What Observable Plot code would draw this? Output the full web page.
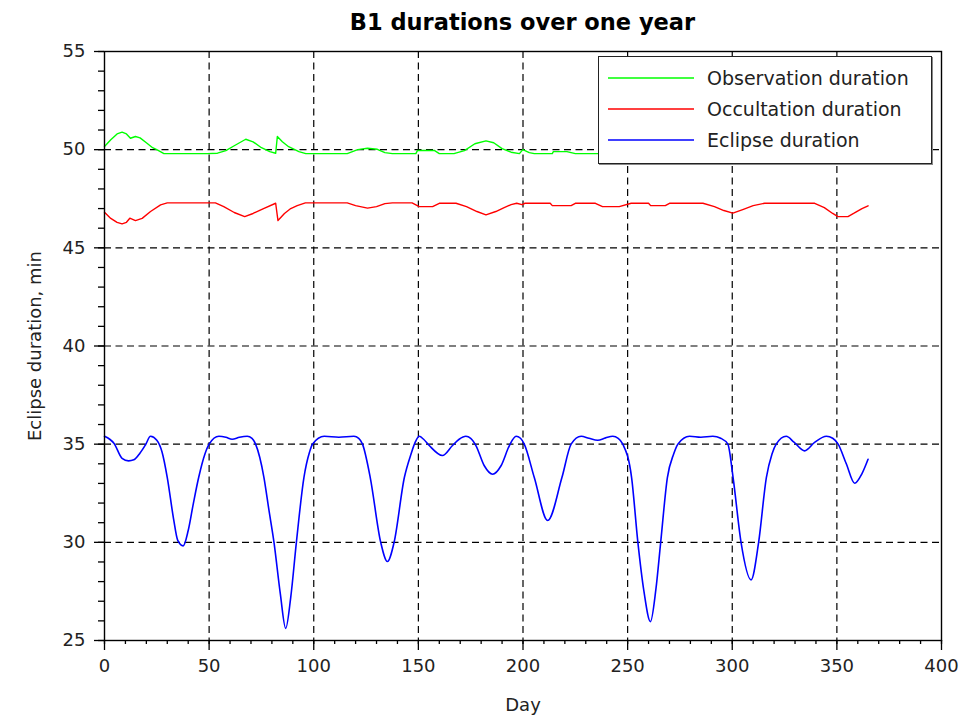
<!DOCTYPE html>
<html>
<head>
<meta charset="utf-8">
<script src="https://cdn.jsdelivr.net/npm/d3@7"></script>
<script src="https://cdn.jsdelivr.net/npm/@observablehq/plot@0.6"></script>
<style>
  body { margin: 0; background: #fff; }
  #wrap { position: relative; width: 975px; height: 715px; font-family: "DejaVu Sans", sans-serif; }
  #title { margin-left: 104px; width: 837px; height: 36px; padding-top: 0; box-sizing: border-box;
           text-align: center; font: bold 22.5px "DejaVu Sans", sans-serif; color: #000; line-height: 44px; }
  #legend { position: absolute; left: 598px; top: 56px; width: 332px; height: 106px;
            background: #fff; border: 1.5px solid #222; box-shadow: 1px 1px 0 #888; }
  #legend .row { position: absolute; left: 0; height: 24px; display: flex; align-items: center; }
  #legend svg { margin-left: 9px; }
  #legend span { margin-left: 13px; font-size: 19px; color: #222; white-space: nowrap; }
</style>
</head>
<body>
<div id="wrap">
  <div id="title">B1 durations over one year</div>
  <div id="chart"></div>
  <div id="legend"></div>
</div>
<script>
// Observation duration (min) by day; the rest of the year sits under the legend box
const obsDay = [0, 3, 6, 8.4, 10.5, 12.4, 14.8, 17, 20, 23, 25.2, 28.4, 49, 54, 58, 62, 67.5, 71, 75, 79, 81.8,
  82.6, 85, 88, 92.9, 96.2, 116, 121, 125.7, 130.4, 134, 137.6, 148.8, 149.6, 157.6, 160, 167, 172, 177, 182.3,
  186, 190, 194.3, 198.3, 199.9, 203, 205.4, 214, 214.5, 221, 225, 236];
const obsMin = [50.16, 50.5, 50.8, 50.89, 50.8, 50.58, 50.67, 50.6, 50.35, 50.1, 49.99, 49.8, 49.8, 49.82, 49.95,
  50.2, 50.53, 50.4, 50.1, 49.9, 49.82, 50.67, 50.4, 50.15, 49.9, 49.8, 49.8, 50.0, 50.07, 50.02, 49.85, 49.8,
  49.8, 49.96, 49.96, 49.8, 49.8, 49.95, 50.3, 50.45, 50.35, 50.05, 49.87, 49.8, 50.0, 49.85, 49.8, 49.8, 49.9,
  49.9, 49.8, 49.8];

// Occultation duration (min) by day
const occDay = [0, 3, 6, 8.4, 10.5, 12.1, 14.8, 18, 22, 26.8, 30, 53, 57, 62, 67, 71, 76, 81.8, 82.9, 86, 89,
  92.1, 96, 116, 120, 125.7, 130, 134, 137.6, 147, 150.4, 156.8, 160, 168, 173, 178, 182.3, 187, 191, 194.3, 197,
  199.5, 201, 213, 214, 223, 225, 234.6, 238, 246, 251.7, 260, 261, 268, 270, 286, 291.5, 296, 300.3, 305, 310,
  315.5, 339.4, 344, 348, 350.5, 355.3, 358, 362, 364.9];
const occMin = [46.81, 46.5, 46.3, 46.22, 46.3, 46.51, 46.39, 46.5, 46.85, 47.19, 47.29, 47.29, 47.1, 46.8, 46.59,
  46.75, 47.0, 47.27, 46.39, 46.75, 47.0, 47.15, 47.29, 47.29, 47.15, 47.02, 47.1, 47.25, 47.29, 47.29, 47.1, 47.1,
  47.27, 47.27, 47.1, 46.85, 46.68, 46.85, 47.05, 47.2, 47.27, 47.2, 47.27, 47.27, 47.15, 47.15, 47.27, 47.27,
  47.1, 47.1, 47.27, 47.27, 47.15, 47.15, 47.27, 47.27, 47.1, 46.9, 46.77, 46.95, 47.15, 47.27, 47.27, 47.05,
  46.75, 46.59, 46.59, 46.75, 47.0, 47.14];

// Eclipse duration (min) by day
const eclDay = [0, 2.5, 4.5, 8.4, 11.5, 14, 17, 19.6, 22, 25, 27.5, 30, 33, 35, 37.6, 40, 42.5, 45, 48, 50, 54.7,
  58, 61, 64.5, 68.2, 70.5, 72.2, 76.2, 78.5, 81, 84, 86.6, 89, 91.7, 95.3, 98, 99.4, 105, 112, 119.2, 121.5, 123.3,
  127, 132, 135.2, 138.4, 143.3, 146.5, 148.5, 150.4, 152.5, 155.2, 161.5, 166.3, 169.5, 172.7, 175, 177.5, 181.5,
  185.5, 189.5, 193.5, 196.7, 198.8, 200.6, 205.4, 211.8, 218.6, 223, 227.8, 231.5, 235.7, 239.5, 242.9, 245.5,
  247.7, 251.9, 254.9, 257.8, 260.9, 263.5, 265.8, 269, 272, 274, 279.6, 285, 290.7, 294.5, 297.9, 300.4, 304.2,
  309, 312.6, 316.3, 319, 321, 325.8, 329.5, 334.6, 339.5, 345, 348, 350.6, 354.5, 358.5, 362, 364.9];
const eclMin = [35.4, 35.25, 35.05, 34.28, 34.15, 34.2, 34.55, 34.97, 35.4, 35.2, 34.6, 33.3, 31.2, 30.1, 29.82,
  30.6, 32.0, 33.3, 34.5, 35.0, 35.4, 35.35, 35.25, 35.35, 35.4, 35.3, 35.0, 33.3, 31.7, 30.0, 27.4, 25.62, 27.2,
  30.0, 33.3, 34.6, 35.0, 35.4, 35.35, 35.4, 35.3, 35.0, 33.3, 30.0, 29.02, 30.0, 33.3, 34.5, 35.1, 35.4, 35.25,
  34.93, 34.42, 34.93, 35.25, 35.4, 35.3, 34.93, 33.9, 33.47, 33.9, 34.93, 35.4, 35.3, 35.0, 33.3, 31.11, 33.3,
  35.0, 35.4, 35.3, 35.2, 35.32, 35.4, 35.3, 35.0, 33.3, 30.0, 27.5, 25.96, 27.6, 30.0, 33.3, 34.5, 35.0, 35.4,
  35.35, 35.4, 35.3, 35.0, 33.3, 30.0, 28.09, 30.0, 33.3, 34.5, 35.0, 35.4, 35.1, 34.66, 35.1, 35.4, 35.3, 35.0,
  34.0, 33.01, 33.5, 34.23];

// Axis ticks
const xMajor = [0, 50, 100, 150, 200, 250, 300, 350, 400];
const xMinor = d3.range(0, 401, 10);
const yMajor = [25, 30, 35, 40, 45, 50, 55];
const yMinor = d3.range(25, 56, 1);
const xGrid = [50, 100, 150, 200, 250, 300, 350];
const yGrid = [30, 35, 40, 45, 50];

const seriesNames = ["Observation duration", "Occultation duration", "Eclipse duration"];
const seriesColors = ["#00ff00", "#ff0000", "#0000ff"];

const toRows = (days, mins, name) => days.map((d, i) => ({day: d, min: mins[i], series: name}));
const observation = toRows(obsDay, obsMin, seriesNames[0]);
const occultation = toRows(occDay, occMin, seriesNames[1]);
const eclipse = toRows(eclDay, eclMin, seriesNames[2]);

const dash = {stroke: "#000", strokeOpacity: 1, strokeWidth: 1.2, strokeDasharray: "7,4.5"};

const chart = Plot.plot({
  width: 975,
  height: 679,
  marginTop: 15,
  marginBottom: 75,
  marginLeft: 104,
  marginRight: 34,
  style: {fontFamily: "DejaVu Sans, sans-serif", fontSize: "18px", color: "#000", background: "#fff", overflow: "visible"},
  x: {domain: [0, 400]},
  y: {domain: [25, 55]},
  marks: [
    Plot.gridX(xGrid, dash),
    Plot.gridY(yGrid, dash),
    Plot.line(observation, {x: "day", y: "min", stroke: seriesColors[0], strokeWidth: 1.4}),
    Plot.line(occultation, {x: "day", y: "min", stroke: seriesColors[1], strokeWidth: 1.4}),
    Plot.line(eclipse, {x: "day", y: "min", stroke: seriesColors[2], strokeWidth: 1.6, curve: "monotone-x"}),
    Plot.axisX(xMinor, {tickSize: 4, tickFormat: () => "", label: null, strokeWidth: 1.3}),
    Plot.axisX(xMajor, {tickSize: 10, tickPadding: 9, fill: "#222", strokeWidth: 1.3,
      label: "Day", labelAnchor: "center", labelArrow: "none", labelOffset: 70}),
    Plot.axisY(yMinor, {tickSize: 6, tickFormat: () => "", label: null, strokeWidth: 1.3}),
    Plot.axisY(yMajor, {tickSize: 10, tickPadding: 9, fill: "#222", strokeWidth: 1.3,
      label: "Eclipse duration, min", labelAnchor: "center", labelArrow: "none", labelOffset: 76}),
    Plot.frame({stroke: "#000", strokeWidth: 1.4})
  ]
});
document.getElementById("chart").appendChild(chart);

// Legend box in the upper right of the plot area
const legend = document.getElementById("legend");
seriesNames.forEach((name, i) => {
  const row = document.createElement("div");
  row.className = "row";
  row.style.top = (9 + i * 31) + "px";
  row.innerHTML = `<svg width="86" height="6"><line x1="0" x2="86" y1="3" y2="3" stroke="${seriesColors[i]}" stroke-width="1.5"/></svg><span>${name}</span>`;
  legend.appendChild(row);
});
</script>
</body>
</html>
